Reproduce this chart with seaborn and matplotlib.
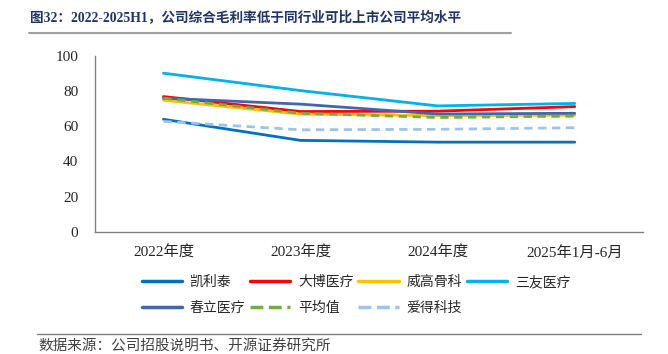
import matplotlib
matplotlib.use("Agg")
import matplotlib.pyplot as plt
import seaborn as sns
import pandas as pd
from matplotlib.lines import Line2D

categories = ["2022年度", "2023年度", "2024年度", "2025年1月-6月"]
kailitai = [64.0, 52.0, 51.0, 51.0]
dabo = [76.9, 68.4, 68.6, 71.2]
weigao = [74.8, 66.9, 66.1, 66.3]
sanyou = [90.2, 80.3, 71.6, 73.0]
chunli = [76.0, 72.6, 67.0, 67.4]
average = [76.0, 67.4, 65.0, 65.8]
aide = [62.8, 58.0, 58.3, 59.2]

series = ["凯利泰", "大博医疗", "威高骨科", "三友医疗", "春立医疗", "平均值", "爱得科技"]
values = [kailitai, dabo, weigao, sanyou, chunli, average, aide]
colors = ["#0070C0", "#FF0000", "#FFC000", "#00B0F0", "#4066B0", "#70AD47", "#9DC3E6"]
dashed = [False, False, False, False, False, True, True]

rows = []
for name, vals in zip(series, values):
    for i, v in enumerate(vals):
        rows.append({"x": i, "val": v, "series": name})
df = pd.DataFrame(rows)

sns.set_style("white")
plt.rcParams["font.family"] = ["Liberation Serif", "Noto Sans CJK SC"]

fig = plt.figure(figsize=(6.68, 3.54), dpi=100)
ax = fig.add_axes([0.142, 0.345, 0.821, 0.497])

palette = dict(zip(series, colors))
dash_map = {s: ((3, 2) if d else "") for s, d in zip(series, dashed)}
sns.lineplot(data=df, x="x", y="val", hue="series", style="series",
             palette=palette, dashes=dash_map, linewidth=2.0, ax=ax,
             legend=False, hue_order=series, style_order=series)

ax.set_xlim(-0.5, 3.5)
ax.set_ylim(0, 100)
ax.set_yticks([0, 20, 40, 60, 80, 100])
ax.set_xticks(range(4))
ax.set_xticklabels(categories)
ax.set_xticks([-0.5, 0.5, 1.5, 2.5, 3.5], minor=True)
ax.tick_params(axis="x", which="major", length=0, pad=10, labelsize=11)
ax.tick_params(axis="x", which="minor", length=4, direction="in", color="#808080")
ax.tick_params(axis="y", length=4, direction="in", color="#808080", labelsize=11, pad=12)
ax.set_xlabel("")
ax.set_ylabel("")
for s in ["top", "right"]:
    ax.spines[s].set_visible(False)
for s in ["left", "bottom"]:
    ax.spines[s].set_color("#808080")
    ax.spines[s].set_linewidth(1.0)

handles = [Line2D([0], [0], color=c, lw=2.5, linestyle=("--" if d else "-"))
           for c, d in zip(colors, dashed)]
order = [0, 4, 1, 5, 2, 6, 3]
leg = fig.legend([handles[i] for i in order], [series[i] for i in order],
                 ncol=4, loc="center", bbox_to_anchor=(0.533, 0.167),
                 frameon=False, handlelength=2.9, columnspacing=0.35,
                 handletextpad=0.55, labelspacing=0.85,
                 prop={"family": ["Noto Sans CJK SC"], "size": 10})

fig.text(0.045, 0.948, "图32：2022-2025H1，公司综合毛利率低于同行业可比上市公司平均水平",
         fontsize=9.8, fontweight="bold", color="#1F3468",
         family=["Liberation Serif", "Noto Sans CJK SC"], va="center")
fig.add_artist(Line2D([0.043, 0.765], [0.908, 0.908], color="#A0A0A0", lw=1.5))
fig.add_artist(Line2D([0.055, 0.96], [0.057, 0.057], color="#808080", lw=1.0))
fig.text(0.058, 0.022, "数据来源：公司招股说明书、开源证券研究所", fontsize=10.5,
         color="#404040", family=["Noto Sans CJK SC"], va="center")

fig.savefig("out.png", dpi=100)
